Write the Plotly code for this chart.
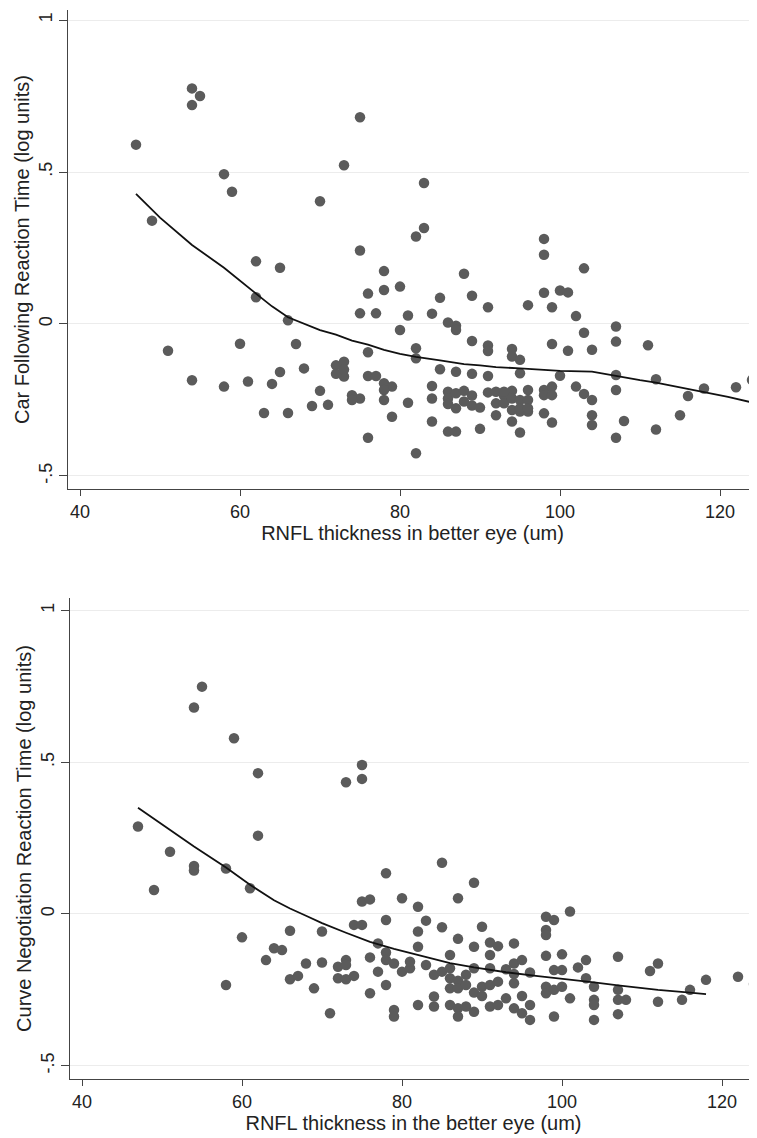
import plotly.graph_objects as go

# ---------------- data: top panel (Car Following) ----------------
car_pts = [
    (47, 0.59), (49, 0.34), (54, 0.775), (54, 0.72), (55, 0.75), (51, -0.088), (54, -0.185),
    (58, 0.493), (59, 0.435), (58, -0.206), (60, -0.065), (61, -0.189), (62, 0.206), (62, 0.088),
    (63, -0.293), (64, -0.197), (65, -0.158), (65, 0.185), (66, 0.012), (66, -0.293), (67, -0.066),
    (68, -0.146), (69, -0.27), (70, -0.22), (70, 0.404), (71, -0.266), (72, -0.136), (73, -0.124),
    (72, -0.164), (73, -0.173), (73, -0.15), (73, 0.522), (74, -0.234), (75, -0.245), (74, -0.25),
    (75, 0.68), (75, 0.242), (75, 0.035), (76, 0.1), (77, 0.035), (76, -0.093), (76, -0.171),
    (77, -0.171), (76, -0.374), (78, 0.174), (78, 0.112), (80, 0.123), (80, -0.02), (78, -0.195),
    (79, -0.206), (78, -0.217), (78, -0.25), (79, -0.305), (81, 0.028), (81, -0.259), (82, 0.288),
    (83, 0.316), (83, 0.464), (82, -0.08), (82, -0.113), (82, -0.425), (84, 0.034), (85, 0.086),
    (86, 0.005), (87, -0.006), (87, -0.02), (84, -0.204), (84, -0.245), (84, -0.321), (85, -0.149),
    (87, -0.157), (86, -0.223), (86, -0.245), (86, -0.263), (87, -0.228), (87, -0.277), (86, -0.354),
    (87, -0.354), (88, 0.165), (88, -0.22), (88, -0.255), (89, 0.093), (89, -0.056), (89, -0.164),
    (89, -0.235), (89, -0.268), (90, -0.275), (90, -0.345), (91, 0.055), (91, -0.071), (91, -0.089),
    (91, -0.171), (91, -0.225), (92, -0.261), (92, -0.3), (93, -0.235), (93, -0.261), (94, -0.082),
    (94, -0.107), (95, -0.118), (95, -0.162), (94, -0.22), (94, -0.245), (94, -0.283), (94, -0.321),
    (95, -0.25), (95, -0.288), (95, -0.357), (96, 0.062), (96, -0.217), (96, -0.25), (96, -0.288),
    (98, 0.28), (98, 0.228), (98, 0.103), (99, 0.055), (99, -0.066), (98, -0.217), (99, -0.206),
    (98, -0.234), (99, -0.234), (98, -0.294), (99, -0.324), (100, 0.11), (101, 0.104), (100, -0.17),
    (101, -0.088), (102, 0.026), (102, -0.206), (103, -0.029), (103, 0.183), (103, -0.23),
    (104, -0.085), (104, -0.25), (104, -0.3), (104, -0.332), (107, -0.008), (107, -0.058),
    (107, -0.168), (107, -0.217), (107, -0.374), (108, -0.319), (111, -0.07), (112, -0.182),
    (112, -0.347), (115, -0.3), (116, -0.237), (118, -0.212), (122, -0.208), (124, -0.184),
    (92, -0.223), (93, -0.223), (95, -0.277), (96, -0.277),
]
car_x = [p[0] for p in car_pts]
car_y = [p[1] for p in car_pts]

car_fit_x = [47, 50, 54, 58, 62, 64, 66, 68, 70, 72, 74, 76, 78, 80, 82, 85, 88, 90, 92, 95,
             100, 104, 107, 110, 112, 115, 118, 121, 124]
car_fit_y = [0.428, 0.35, 0.26, 0.185, 0.10, 0.058, 0.022, 0.0, -0.02, -0.035, -0.055, -0.068,
             -0.085, -0.098, -0.108, -0.12, -0.132, -0.136, -0.142, -0.146, -0.154, -0.157,
             -0.172, -0.185, -0.193, -0.208, -0.223, -0.24, -0.258]

# ---------------- data: bottom panel (Curve Negotiation) ----------------
curve_pts = [
    (55, 0.749), (54, 0.68), (59, 0.579), (62, 0.464), (73, 0.434), (75, 0.445), (75, 0.491),
    (47, 0.288), (51, 0.205), (54, 0.158), (54, 0.143), (58, 0.15), (62, 0.258), (49, 0.079),
    (61, 0.085), (60, -0.077), (58, -0.234), (66, -0.055), (70, -0.058), (64, -0.113), (65, -0.119),
    (63, -0.152), (68, -0.163), (70, -0.16), (66, -0.215), (67, -0.204), (69, -0.245), (71, -0.327),
    (72, -0.174), (73, -0.152), (73, -0.168), (72, -0.212), (73, -0.215), (74, -0.204), (74, -0.036),
    (75, -0.036), (75, 0.041), (76, 0.048), (76, -0.143), (77, -0.19), (76, -0.261), (78, 0.134),
    (80, 0.052), (82, 0.024), (78, -0.02), (77, -0.097), (78, -0.127), (82, -0.058), (82, -0.108),
    (89, 0.103), (87, 0.052), (83, -0.022), (85, -0.044), (90, -0.042), (87, -0.082), (91, -0.094),
    (92, -0.106), (94, -0.097), (89, -0.108), (91, -0.135), (86, -0.135), (78, -0.152), (79, -0.163),
    (80, -0.19), (81, -0.179), (81, -0.157), (78, -0.234), (83, -0.168), (84, -0.2), (85, -0.19),
    (86, -0.179), (86, -0.212), (86, -0.245), (87, -0.22), (87, -0.245), (88, -0.2), (88, -0.234),
    (89, -0.179), (89, -0.259), (90, -0.24), (90, -0.27), (91, -0.179), (91, -0.234), (92, -0.223),
    (93, -0.182), (93, -0.278), (94, -0.163), (94, -0.198), (94, -0.228), (95, -0.152), (95, -0.27),
    (96, -0.193), (84, -0.272), (84, -0.305), (86, -0.3), (87, -0.311), (88, -0.305), (87, -0.338),
    (89, -0.322), (91, -0.305), (92, -0.3), (94, -0.311), (95, -0.327), (96, -0.3), (96, -0.349),
    (82, -0.3), (79, -0.316), (79, -0.338), (98, -0.009), (99, -0.02), (98, -0.053), (98, -0.069),
    (98, -0.138), (99, -0.185), (98, -0.24), (98, -0.261), (99, -0.25), (99, -0.338), (85, 0.169),
    (101, 0.008), (100, -0.133), (103, -0.152), (107, -0.141), (112, -0.163), (111, -0.188),
    (118, -0.217), (122, -0.207), (124, -0.231), (116, -0.25), (115, -0.283), (112, -0.289),
    (107, -0.25), (107, -0.283), (108, -0.283), (107, -0.33), (104, -0.283), (104, -0.3),
    (104, -0.349), (101, -0.278), (102, -0.176), (103, -0.212), (104, -0.24), (100, -0.185),
    (100, -0.24),
]
curve_x = [p[0] for p in curve_pts]
curve_y = [p[1] for p in curve_pts]

curve_fit_x = [47, 50, 54, 58, 61, 64, 66, 68, 70, 73, 76, 79, 82, 86, 89, 93, 97, 100, 104,
               107, 112, 116, 118]
curve_fit_y = [0.35, 0.295, 0.222, 0.153, 0.096, 0.045, 0.018, -0.006, -0.03, -0.062, -0.092,
               -0.115, -0.135, -0.162, -0.176, -0.192, -0.205, -0.213, -0.225, -0.235, -0.25,
               -0.259, -0.264]

x_ticks = [40, 60, 80, 100, 120]
y_ticks = [-0.5, 0, 0.5, 1]
y_tick_labels = ["-.5", "0", ".5", "1"]

top_xtitle = "RNFL thickness in better eye (um)"
top_ytitle = "Car Following Reaction Time (log units)"
bot_xtitle = "RNFL thickness in the better eye (um)"
bot_ytitle = "Curve Negotiation Reaction Time (log units)"

# ---------------- figure ----------------
# The page body keeps its default 8px margin, so the figure is drawn 8px
# smaller and every position is expressed relative to that offset.
OFF = 8
W, H = 757 - OFF, 1138 - OFF
MARKER = dict(color="#5b5b5b", size=10.5, line=dict(width=0))
FIT = dict(color="#111111", width=1.8)
FONT = "Liberation Sans, Arial, Helvetica, sans-serif"
TXT = "#222222"


def px_x(v):
    return (v - OFF) / W


def px_y(v):
    return 1 - (v - OFF) / H


fig = go.Figure()
fig.add_trace(go.Scatter(x=car_x, y=car_y, mode="markers", marker=MARKER,
                         xaxis="x", yaxis="y", showlegend=False))
fig.add_trace(go.Scatter(x=car_fit_x, y=car_fit_y, mode="lines", line=FIT,
                         xaxis="x", yaxis="y", showlegend=False))
fig.add_trace(go.Scatter(x=curve_x, y=curve_y, mode="markers", marker=MARKER,
                         xaxis="x2", yaxis="y2", showlegend=False))
fig.add_trace(go.Scatter(x=curve_fit_x, y=curve_fit_y, mode="lines", line=FIT,
                         xaxis="x2", yaxis="y2", showlegend=False))


def xax(domain, anchor, rng, title):
    return dict(domain=domain, anchor=anchor, range=rng, tickvals=x_ticks, automargin=False,
                showgrid=False, zeroline=False, showline=True, linecolor="#444444", linewidth=1.2,
                ticks="outside", ticklen=6, tickcolor="#444444", tickwidth=1.2,
                tickfont=dict(family=FONT, size=18, color=TXT),
                title=dict(text=title, font=dict(family=FONT, size=20, color=TXT), standoff=2))


def yax(domain, anchor, rng, title):
    return dict(domain=domain, anchor=anchor, range=rng, tickvals=y_ticks, ticktext=y_tick_labels,
                tickangle=-90, automargin=False, showgrid=True, gridcolor="#ececec", gridwidth=1.2,
                zeroline=False, showline=True, linecolor="#444444", linewidth=1.2,
                ticks="outside", ticklen=8, tickcolor="#444444", tickwidth=1.2,
                tickfont=dict(family=FONT, size=18, color=TXT),
                title=dict(text=title, font=dict(family=FONT, size=20, color=TXT), standoff=0))


fig.update_layout(
    width=W, height=H,
    margin=dict(l=0, r=0, t=0, b=0, autoexpand=False),
    paper_bgcolor="white", plot_bgcolor="white",
    xaxis=xax([px_x(68), 1.0], "y", [38.5, 124.625], top_xtitle),
    yaxis=yax([px_y(489), px_y(10)], "x", [-0.5428, 1.0329], top_ytitle),
    xaxis2=xax([px_x(70), 1.0], "y2", [38.5, 124.375], bot_xtitle),
    yaxis2=yax([px_y(1079), px_y(598)], "x2", [-0.5437, 1.041], bot_ytitle),
)

fig.write_html("out.html")
